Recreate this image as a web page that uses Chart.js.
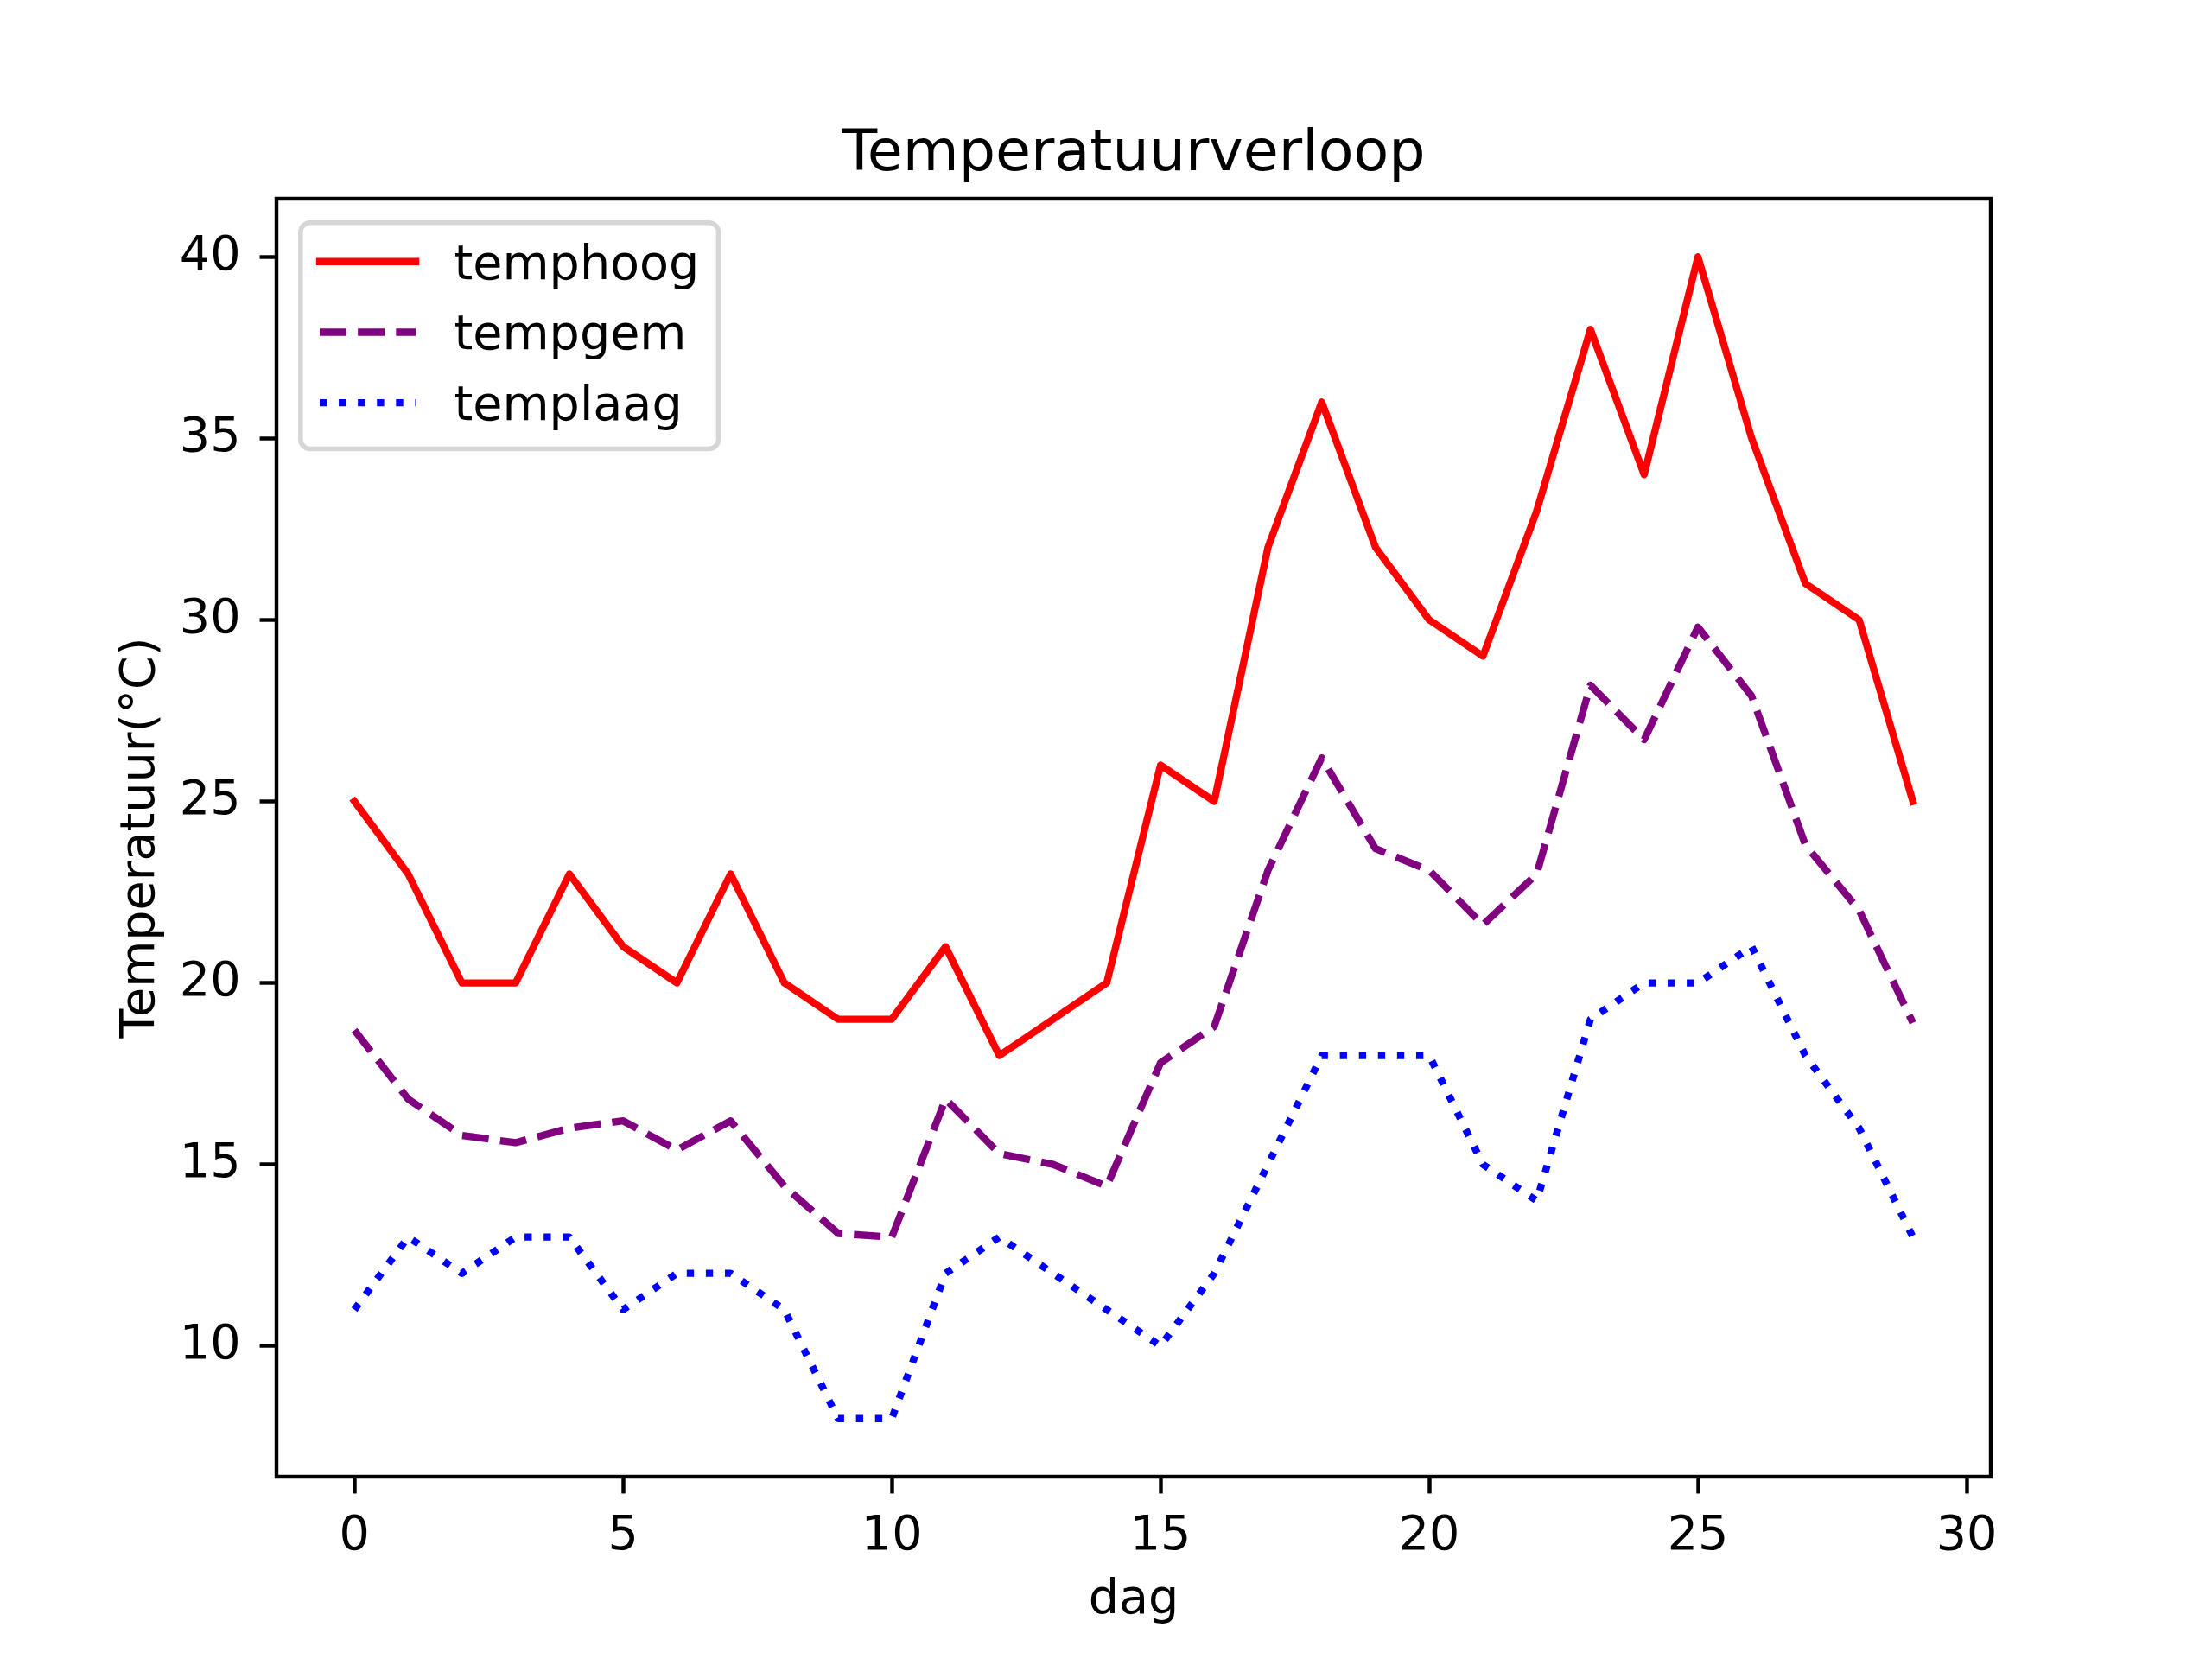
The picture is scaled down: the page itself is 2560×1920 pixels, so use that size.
<!DOCTYPE html>
<html>
<head>
<meta charset="utf-8">
<script src="https://cdn.jsdelivr.net/npm/chart.js@4.4.1/dist/chart.umd.min.js"></script>
<style>
  html, body { margin: 0; padding: 0; background: #ffffff; }
  #wrap { width: 2560px; height: 1920px; }
</style>
</head>
<body>
<div id="wrap"><canvas id="myChart" width="2560" height="1920"></canvas></div>
<script>
// data
const days = [0, 1, 2, 3, 4, 5, 6, 7, 8, 9, 10, 11, 12, 13, 14, 15, 16, 17, 18, 19, 20, 21, 22, 23, 24, 25, 26, 27, 28, 29];
const tempHoog = [25, 23, 20, 20, 23, 21, 20, 23, 20, 19, 19, 21, 18, 19, 20, 26, 25, 32, 36, 32, 30, 29, 33, 38, 34, 40, 35, 31, 30, 25];
const tempGem = [18.7, 16.8, 15.8, 15.6, 16.0, 16.2, 15.4, 16.2, 14.4, 13.1, 13.0, 16.8, 15.3, 15.0, 14.4, 17.8, 18.8, 23.1, 26.2, 23.7, 23.1, 21.6, 23.0, 28.2, 26.7, 29.8, 27.9, 23.8, 22.0, 18.9];
const tempLaag = [11, 13, 12, 13, 13, 11, 12, 12, 11, 8, 8, 12, 13, 12, 11, 10, 12, 15, 18, 18, 18, 15, 14, 19, 20, 20, 21, 18, 16, 13];
const seriesNames = ["temphoog", "tempgem", "templaag"];
const xTicks = [0, 5, 10, 15, 20, 25, 30];
const yTicks = [10, 15, 20, 25, 30, 35, 40];
const titleText = "Temperatuurverloop";
const xLabel = "dag";
const yLabel = "Temperatuur(°C)";

const PT = 400 / 72; // points -> pixels at 400 dpi
const FONT = "'DejaVu Sans', sans-serif";
const fs = 10 * PT;

const toPoints = (ys) => days.map((d, i) => ({ x: d, y: ys[i] }));

// x and y limits with matplotlib's 5% margins
const xMin = Math.min(...days), xMax = Math.max(...days);
const allY = tempHoog.concat(tempGem, tempLaag);
const yMin = Math.min(...allY), yMax = Math.max(...allY);
const xPad = (xMax - xMin) * 0.05, yPad = (yMax - yMin) * 0.05;

const lineW = 1.5 * PT;

const datasets = [
  {
    label: seriesNames[0],
    data: toPoints(tempHoog),
    borderColor: "#ff0000",
    borderWidth: lineW,
    borderDash: [],
    borderCapStyle: "square",
  },
  {
    label: seriesNames[1],
    data: toPoints(tempGem),
    borderColor: "#800080",
    borderWidth: lineW,
    borderDash: [3.7 * 1.5 * PT, 1.6 * 1.5 * PT],
    borderCapStyle: "butt",
  },
  {
    label: seriesNames[2],
    data: toPoints(tempLaag),
    borderColor: "#0000ff",
    borderWidth: lineW,
    borderDash: [1 * 1.5 * PT, 1.65 * 1.5 * PT],
    borderCapStyle: "butt",
  },
].map((d) => Object.assign(d, {
  borderJoinStyle: "round",
  pointRadius: 0,
  pointHoverRadius: 0,
  tension: 0,
  fill: false,
}));

// axes frame (four spines)
const spinesPlugin = {
  id: "spines",
  afterDatasetsDraw(chart) {
    const a = chart.chartArea;
    const ctx = chart.ctx;
    ctx.save();
    ctx.strokeStyle = "#000000";
    ctx.lineWidth = 0.8 * PT;
    ctx.lineJoin = "miter";
    ctx.strokeRect(a.left, a.top, a.right - a.left, a.bottom - a.top);
    ctx.restore();
  },
};

// title and axis labels
const labelsPlugin = {
  id: "labels",
  afterDraw(chart) {
    const a = chart.chartArea;
    const ctx = chart.ctx;
    const cx = (a.left + a.right) / 2;
    const cy = (a.top + a.bottom) / 2;
    ctx.save();
    ctx.fillStyle = "#000000";
    ctx.textAlign = "center";
    ctx.textBaseline = "alphabetic";
    ctx.font = (12 * PT) + "px " + FONT;
    ctx.fillText(titleText, cx, a.top - 6 * PT);
    ctx.font = fs + "px " + FONT;
    ctx.fillText(xLabel, cx, 1867);
    ctx.translate(178, cy);
    ctx.rotate(-Math.PI / 2);
    ctx.fillText(yLabel, 0, 0);
    ctx.restore();
  },
};

// matplotlib style legend, upper left
const legendPlugin = {
  id: "mplLegend",
  afterDraw(chart) {
    const a = chart.chartArea;
    const ctx = chart.ctx;
    ctx.save();
    ctx.font = fs + "px " + FONT;
    let textW = 0;
    chart.data.datasets.forEach((ds) => {
      textW = Math.max(textW, ctx.measureText(ds.label).width);
    });
    const x0 = a.left + 0.5 * fs;
    const y0 = a.top + 0.5 * fs;
    const rowStep = 81.7;
    const w = 0.4 * fs + 2 * fs + 0.8 * fs + textW + 0.4 * fs;
    const h = 2 * 0.4 * fs + 3 * rowStep - 0.5 * fs;
    const r = 0.2 * fs;

    ctx.beginPath();
    ctx.moveTo(x0 + r, y0);
    ctx.arcTo(x0 + w, y0, x0 + w, y0 + h, r);
    ctx.arcTo(x0 + w, y0 + h, x0, y0 + h, r);
    ctx.arcTo(x0, y0 + h, x0, y0, r);
    ctx.arcTo(x0, y0, x0 + w, y0, r);
    ctx.closePath();
    ctx.fillStyle = "rgba(255,255,255,0.8)";
    ctx.fill();
    ctx.lineWidth = 1 * PT;
    ctx.strokeStyle = "rgba(204,204,204,0.8)";
    ctx.stroke();

    chart.data.datasets.forEach((ds, i) => {
      const ly = y0 + 45 + i * rowStep;
      const hx = x0 + 0.4 * fs;
      ctx.beginPath();
      ctx.setLineDash(ds.borderDash);
      ctx.lineCap = ds.borderCapStyle;
      ctx.lineWidth = ds.borderWidth;
      ctx.strokeStyle = ds.borderColor;
      ctx.moveTo(hx, ly);
      ctx.lineTo(hx + 2 * fs, ly);
      ctx.stroke();
      ctx.setLineDash([]);
      ctx.fillStyle = "#000000";
      ctx.textAlign = "left";
      ctx.textBaseline = "alphabetic";
      ctx.fillText(ds.label, hx + 2.8 * fs, y0 + 65 + i * rowStep);
    });
    ctx.restore();
  },
};

const tickFont = { family: FONT, size: fs };

const ctx = document.getElementById("myChart").getContext("2d");
const myChart = new Chart(ctx, {
  type: "line",
  data: { datasets: datasets },
  options: {
    responsive: false,
    devicePixelRatio: 1,
    animation: false,
    layout: { padding: { top: 230, right: 256, bottom: 0, left: 0 } },
    plugins: {
      legend: { display: false },
      title: { display: false },
      tooltip: { enabled: false },
    },
    scales: {
      x: {
        type: "linear",
        min: xMin - xPad,
        max: xMax + xPad,
        border: { display: false },
        grid: {
          drawOnChartArea: false,
          drawTicks: true,
          tickLength: 3.5 * PT,
          tickWidth: 0.8 * PT,
          tickColor: "#000000",
        },
        ticks: { font: tickFont, color: "#000000", padding: 17, maxRotation: 0, autoSkip: false },
        afterBuildTicks: (s) => { s.ticks = xTicks.map((v) => ({ value: v })); },
        afterFit: (s) => { s.height = 211; s.paddingLeft = 0; s.paddingRight = 0; },
      },
      y: {
        type: "linear",
        min: yMin - yPad,
        max: yMax + yPad,
        border: { display: false },
        grid: {
          drawOnChartArea: false,
          drawTicks: true,
          tickLength: 3.5 * PT,
          tickWidth: 0.8 * PT,
          tickColor: "#000000",
        },
        ticks: { font: tickFont, color: "#000000", padding: 22 },
        afterBuildTicks: (s) => { s.ticks = yTicks.map((v) => ({ value: v })); },
        afterFit: (s) => { s.width = 320; s.paddingTop = 0; s.paddingBottom = 0; },
      },
    },
  },
  plugins: [spinesPlugin, labelsPlugin, legendPlugin],
});
</script>
</body>
</html>
